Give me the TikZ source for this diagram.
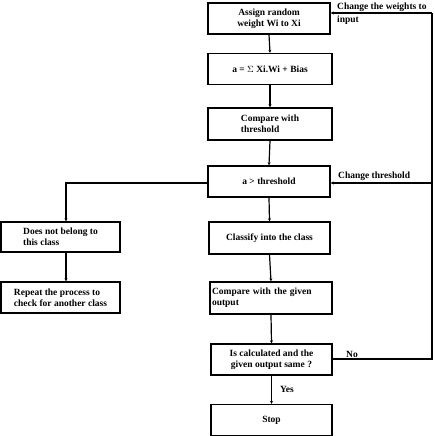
\documentclass[tikz,border=0pt]{standalone}
\usepackage{fontspec}
\setmainfont{Liberation Serif}
\usetikzlibrary{arrows.meta}
\begin{document}
\begin{tikzpicture}[x=1pt,y=-1pt,
  box/.style={draw,line width=1.4pt,minimum width=122pt,minimum height=31pt,inner sep=2pt,font=\fontsize{9.5}{11}\selectfont\bfseries},
  lbl/.style={font=\fontsize{9.5}{11}\selectfont\bfseries,inner sep=0pt},
  arr/.style={line width=1.2pt,-{Stealth[length=3pt,width=3pt]}},
  ln/.style={line width=1.2pt}]
\useasboundingbox (0,0) rectangle (434,436);
\node[box,align=center] (b1) at (269,18.5) {Assign random\\weight Wi to Xi};
\node[box,minimum width=124pt] (b2) at (270,69) {a = $\Sigma$ Xi.Wi + Bias};
\node[box,minimum width=124pt,minimum height=32pt,align=left] (b3) at (270,124) {Compare with\\threshold};
\node[box] (b4) at (269,181.5) {a > threshold};
\node[box,minimum width=119pt,minimum height=30pt,align=left] (b5) at (60.5,237) {Does not belong to\\this class};
\node[box,minimum width=119pt,align=left] (b6) at (60.5,297.5) {Repeat the process to\\check for another class};
\node[box,minimum width=121pt,minimum height=32pt] (b7) at (269.5,238) {Classify into the class};
\node[box,minimum height=32pt,text width=118pt,align=left] (b8) at (271,298) {Compare with the given\\output};
\node[box,minimum width=121pt,align=center] (b9) at (271.5,359.5) {Is calculated and the\\given output same ?};
\node[box,minimum width=121pt] (b10) at (271.5,420) {Stop};
\coordinate (tr) at (432,13);
\coordinate (mr) at (432,183);
\coordinate (br) at (432,359);
\coordinate (ll) at (66,183);
\draw[arr] (b1.south) -- (b2.north);
\draw[arr] (b2.south) -- (b3.north);
\draw[arr] (b3.south) -- (b4.north);
\draw[arr] (b4.south) -- (b7.north);
\draw[arr] (b7.south) -- (b8.north);
\draw[arr] (b8.south) -- (b9.north);
\draw[arr] (b9.south) -- node[lbl,right=8pt,pos=0.5] {Yes} (b10.north);
\draw[arr] (b4.west |- ll) -- (ll) -- (b5.north -| ll);
\draw[arr] (b5.south -| 66,0) -- (b6.north -| 66,0);
\draw[ln] (b9.east |- br) -- (br) -- (tr);
\draw[arr] (tr) -- (b1.east |- tr);
\draw[arr] (mr) -- (b4.east |- mr);
\node[lbl,anchor=north west,align=left,font=\fontsize{9.5}{13.5}\selectfont\bfseries] (l1) at (337,2.5) {Change the weights to\\input};
\node[lbl,anchor=west] (l2) at (338,176) {Change threshold};
\node[lbl,anchor=west] (l3) at (346,354) {No};
\end{tikzpicture}
\end{document}
